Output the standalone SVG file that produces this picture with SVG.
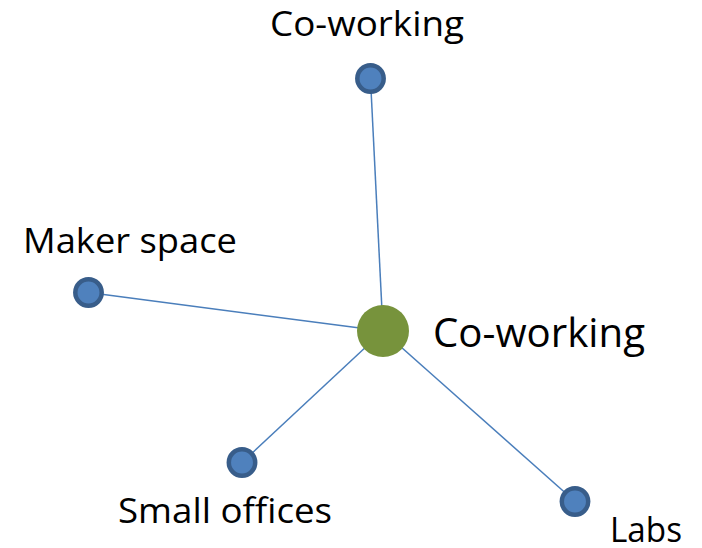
<svg xmlns="http://www.w3.org/2000/svg" width="702" height="548" viewBox="0 0 702 548">
  <style>
    .edge { stroke: #4A7EBB; stroke-width: 1.5; fill: none; }
    .leaf { fill: #4F81BD; stroke: #385D8A; stroke-width: 4.5; }
    .hub { fill: #77933C; }
    .lbl { font-family: "Open Sans", "Liberation Sans", sans-serif; fill: #000000; }
  </style>
  <rect width="702" height="548" fill="#FFFFFF"/>
  <g id="connectors">
    <line class="edge" x1="383" y1="331" x2="370.5" y2="79"/>
    <line class="edge" x1="383" y1="331" x2="88.5" y2="292.5"/>
    <line class="edge" x1="383" y1="331" x2="242" y2="462.5"/>
    <line class="edge" x1="383" y1="331" x2="575" y2="501.5"/>
  </g>
  <g id="node-top">
    <circle class="leaf" cx="370.5" cy="78.5" r="13.2"/>
    <text class="lbl" x="270" y="36" font-size="34" textLength="194" lengthAdjust="spacingAndGlyphs">Co-working</text>
  </g>
  <g id="node-maker">
    <circle class="leaf" cx="88.5" cy="292.5" r="13.2"/>
    <text class="lbl" x="23" y="253" font-size="34" textLength="214" lengthAdjust="spacingAndGlyphs">Maker space</text>
  </g>
  <g id="node-offices">
    <circle class="leaf" cx="242" cy="462.5" r="13.2"/>
    <text class="lbl" x="118" y="523" font-size="34" textLength="214" lengthAdjust="spacingAndGlyphs">Small offices</text>
  </g>
  <g id="node-labs">
    <circle class="leaf" cx="575" cy="501.5" r="13.2"/>
    <text class="lbl" x="610" y="542" font-size="34" textLength="72" lengthAdjust="spacingAndGlyphs">Labs</text>
  </g>
  <g id="node-hub">
    <circle class="hub" cx="383" cy="331" r="26"/>
    <text class="lbl" x="433" y="347" font-size="41" textLength="212" lengthAdjust="spacingAndGlyphs">Co-working</text>
  </g>
</svg>
